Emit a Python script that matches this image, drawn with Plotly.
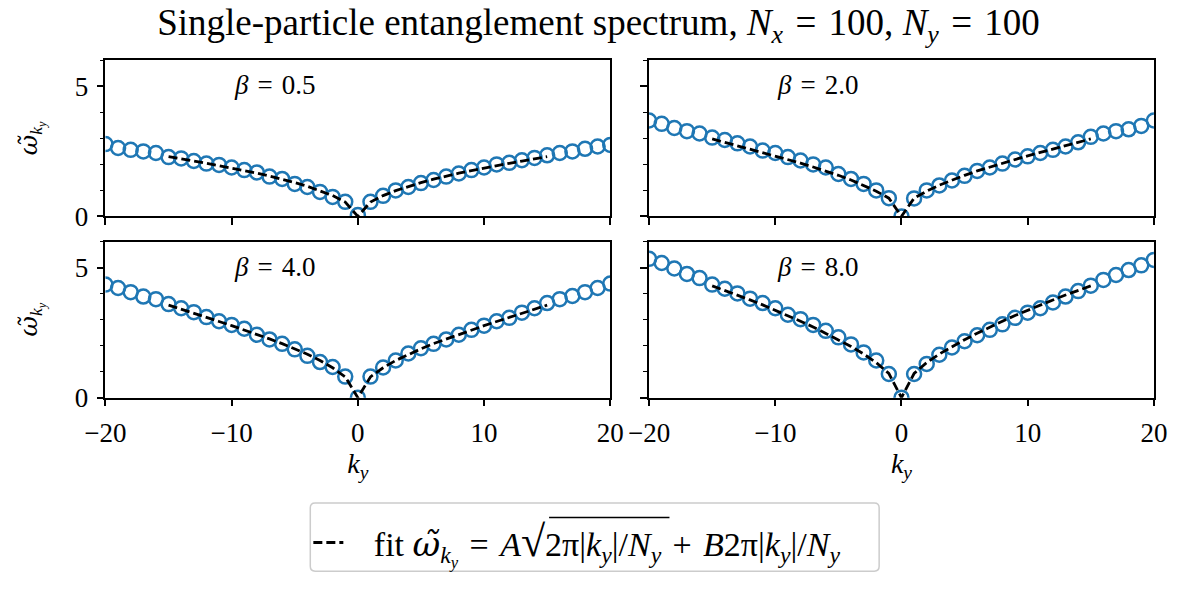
import plotly.graph_objects as go

# Momentum index along y
ky = list(range(-20, 21))

# Entanglement spectrum values for each inverse temperature
betas = [0.5, 2.0, 4.0, 8.0]
omega_b05 = [2.78, 2.63, 2.56, 2.50, 2.44, 2.28, 2.23, 2.13, 2.03, 1.98, 1.88,
             1.78, 1.69, 1.53, 1.44, 1.25, 1.13, 0.94, 0.75, 0.56, 0.05,
             0.56, 0.79, 1.00, 1.13, 1.28, 1.40, 1.53, 1.65, 1.78, 1.88,
             2.00, 2.06, 2.16, 2.25, 2.35, 2.44, 2.50, 2.60, 2.69, 2.75]
omega_b2 = [3.69, 3.56, 3.40, 3.28, 3.19, 3.03, 2.94, 2.81, 2.69, 2.53, 2.44,
            2.28, 2.15, 2.00, 1.88, 1.63, 1.44, 1.25, 1.00, 0.70, 0.00,
            0.69, 1.00, 1.19, 1.38, 1.56, 1.75, 1.88, 2.03, 2.19, 2.31,
            2.44, 2.56, 2.69, 2.85, 3.06, 3.19, 3.28, 3.35, 3.48, 3.69]
omega_b4 = [4.35, 4.22, 4.06, 3.89, 3.79, 3.60, 3.44, 3.29, 3.10, 2.94, 2.80,
            2.65, 2.42, 2.24, 2.07, 1.86, 1.61, 1.37, 1.18, 0.81, 0.00,
            0.81, 1.16, 1.43, 1.70, 1.90, 2.07, 2.24, 2.42, 2.61, 2.77,
            2.94, 3.07, 3.27, 3.44, 3.64, 3.79, 3.91, 4.06, 4.22, 4.39]
omega_b8 = [5.34, 5.18, 4.97, 4.76, 4.60, 4.35, 4.19, 4.01, 3.81, 3.64, 3.44,
            3.19, 3.02, 2.80, 2.57, 2.32, 2.05, 1.74, 1.43, 0.91, 0.00,
            0.91, 1.30, 1.65, 1.93, 2.17, 2.40, 2.61, 2.82, 3.07, 3.27,
            3.44, 3.66, 3.89, 4.10, 4.31, 4.53, 4.72, 4.91, 5.09, 5.30]

# Fitted curve sampled over |k_y| <= 15
fit_ky = list(range(-15, 16))
fit_b05 = [2.30, 2.22, 2.13, 2.04, 1.95, 1.86, 1.76, 1.66, 1.55, 1.43, 1.30,
           1.16, 0.99, 0.80, 0.55, 0.00, 0.55, 0.80, 0.99, 1.16, 1.30, 1.43,
           1.55, 1.66, 1.76, 1.86, 1.95, 2.04, 2.13, 2.22, 2.30]
fit_b2 = [2.98, 2.85, 2.72, 2.59, 2.46, 2.33, 2.19, 2.05, 1.90, 1.75, 1.58,
          1.40, 1.20, 0.97, 0.70, 0.00, 0.70, 0.97, 1.20, 1.40, 1.58, 1.75,
          1.90, 2.05, 2.19, 2.33, 2.46, 2.59, 2.72, 2.85, 2.98]
fit_b4 = [3.56, 3.41, 3.25, 3.09, 2.93, 2.77, 2.61, 2.44, 2.26, 2.08, 1.88,
          1.67, 1.43, 1.15, 0.80, 0.00, 0.80, 1.15, 1.43, 1.67, 1.88, 2.08,
          2.26, 2.44, 2.61, 2.77, 2.93, 3.09, 3.25, 3.41, 3.56]
fit_b8 = [4.30, 4.13, 3.95, 3.76, 3.57, 3.37, 3.16, 2.94, 2.72, 2.48, 2.23,
          1.97, 1.68, 1.35, 0.93, 0.00, 0.93, 1.35, 1.68, 1.97, 2.23, 2.48,
          2.72, 2.94, 3.16, 3.37, 3.57, 3.76, 3.95, 4.13, 4.30]

x_ticks = [-20, -10, 0, 10, 20]
x_tick_text = ["\u221220", "\u221210", "0", "10", "20"]
y_ticks = [0, 5]

data_sets = [omega_b05, omega_b2, omega_b4, omega_b8]
fit_sets = [fit_b05, fit_b2, fit_b4, fit_b8]

W, H = 1197, 592
FONT = "Liberation Serif"
BLUE = "#1f77b4"
SP = "\u2004"  # slightly wider space around relation signs

# Pixel layout of the four panels (left, right, top, bottom)
cols = [(87, 607), (647, 1167)]
rows = [(62, 222), (248, 408)]

fig = go.Figure()

OMEGA = ("<span style='font-family:DejaVu Serif'><i>\u03c9\u0303</i></span>"
         "<sub><i>k<sub>y</sub></i></sub>")
RADICAL = "<span style='font-size:44px'>\u221a</span>"
fit_label = ("\u2002 fit " + OMEGA + SP + "=" + SP + "<i>A</i>" + RADICAL
             + "2\u03c0|<i>k<sub>y</sub></i>|/<i>N<sub>y</sub></i>"
             + SP + "+" + SP + "<i>B</i>2\u03c0|<i>k<sub>y</sub></i>|/<i>N<sub>y</sub></i>")

for i in range(4):
    r, c = divmod(i, 2)
    n = i + 1
    xa = "x" if n == 1 else f"x{n}"
    ya = "y" if n == 1 else f"y{n}"
    fig.add_trace(go.Scatter(
        x=ky, y=data_sets[i], mode="markers", xaxis=xa, yaxis=ya,
        marker=dict(symbol="circle-open", size=14, color=BLUE,
                    line=dict(width=2.5, color=BLUE)),
        showlegend=False, hoverinfo="x+y"))
    fig.add_trace(go.Scatter(
        x=fit_ky, y=fit_sets[i], mode="lines", xaxis=xa, yaxis=ya,
        line=dict(color="black", width=2.8, dash="9px,4px"),
        name=fit_label, showlegend=(i == 0)))

    x0, x1 = cols[c]
    top, bot = rows[r]
    axis_common = dict(showline=True, linecolor="black", linewidth=1.6, mirror=True,
                       ticks="outside", ticklen=7, tickwidth=1.6, tickcolor="black",
                       showgrid=False, zeroline=False, ticklabelstandoff=3,
                       tickfont=dict(family=FONT, size=27, color="black"))
    xkey = "xaxis" if n == 1 else f"xaxis{n}"
    ykey = "yaxis" if n == 1 else f"yaxis{n}"
    fig.update_layout(**{
        xkey: dict(axis_common, domain=[x0 / W, x1 / W], range=[-20, 20],
                   tickvals=x_ticks, ticktext=x_tick_text,
                   showticklabels=(r == 1), anchor=ya,
                   title=dict(text="<i>k<sub>y</sub></i>" if r == 1 else "",
                              font=dict(family=FONT, size=28, color="black"),
                              standoff=2)),
        ykey: dict(axis_common, domain=[1 - bot / H, 1 - top / H], range=[0, 6],
                   tickvals=y_ticks, showticklabels=(c == 0), anchor=xa,
                   minor=dict(dtick=1, tick0=0, ticks="outside", ticklen=4,
                              tickwidth=1.4, tickcolor="black"),
                   title=dict(text=OMEGA if c == 0 else "",
                              font=dict(family=FONT, size=25, color="black"),
                              standoff=30)),
    })
    fig.add_annotation(
        xref=f"{xa} domain", yref=f"{ya} domain", x=0.25, y=0.84,
        xanchor="left", yanchor="middle", showarrow=False,
        text=f"<i>\u03b2</i>{SP}={SP}{betas[i]:.1f}",
        font=dict(family=FONT, size=27, color="black"))


def px(x, y):
    return f"{x / W},{1 - y / H}"


# Rounded frame behind the legend
bx0, bx1, by0, by1, rad = 298, 884, 516, 586, 5
frame = (f"M {px(bx0 + rad, by0)} L {px(bx1 - rad, by0)} Q {px(bx1, by0)} {px(bx1, by0 + rad)} "
         f"L {px(bx1, by1 - rad)} Q {px(bx1, by1)} {px(bx1 - rad, by1)} "
         f"L {px(bx0 + rad, by1)} Q {px(bx0, by1)} {px(bx0, by1 - rad)} "
         f"L {px(bx0, by0 + rad)} Q {px(bx0, by0)} {px(bx0 + rad, by0)} Z")
fig.add_shape(type="path", xref="paper", yref="paper", layer="below", path=frame,
              line=dict(color="#cccccc", width=1.5), fillcolor="white")

# Vinculum of the square root in the legend formula
fig.add_shape(type="line", xref="paper", yref="paper",
              x0=544 / W, x1=668 / W, y0=1 - 531 / H, y1=1 - 531 / H,
              line=dict(color="black", width=1.5))

fig.update_layout(
    width=W, height=H, margin=dict(l=0, r=0, t=0, b=0),
    paper_bgcolor="white", plot_bgcolor="white",
    title=dict(text=f"Single-particle entanglement spectrum, <i>N<sub>x</sub></i>{SP}={SP}100, "
                    f"<i>N<sub>y</sub></i>{SP}={SP}100",
               x=0.5, xanchor="center", y=1 - 22 / H, yanchor="middle",
               font=dict(family=FONT, size=37, color="black")),
    legend=dict(x=296 / W, xanchor="left", y=1 - 557 / H, yanchor="middle",
                borderwidth=0, bgcolor="rgba(0,0,0,0)",
                font=dict(family=FONT, size=34, color="black")),
)

fig.write_html("out.html")
